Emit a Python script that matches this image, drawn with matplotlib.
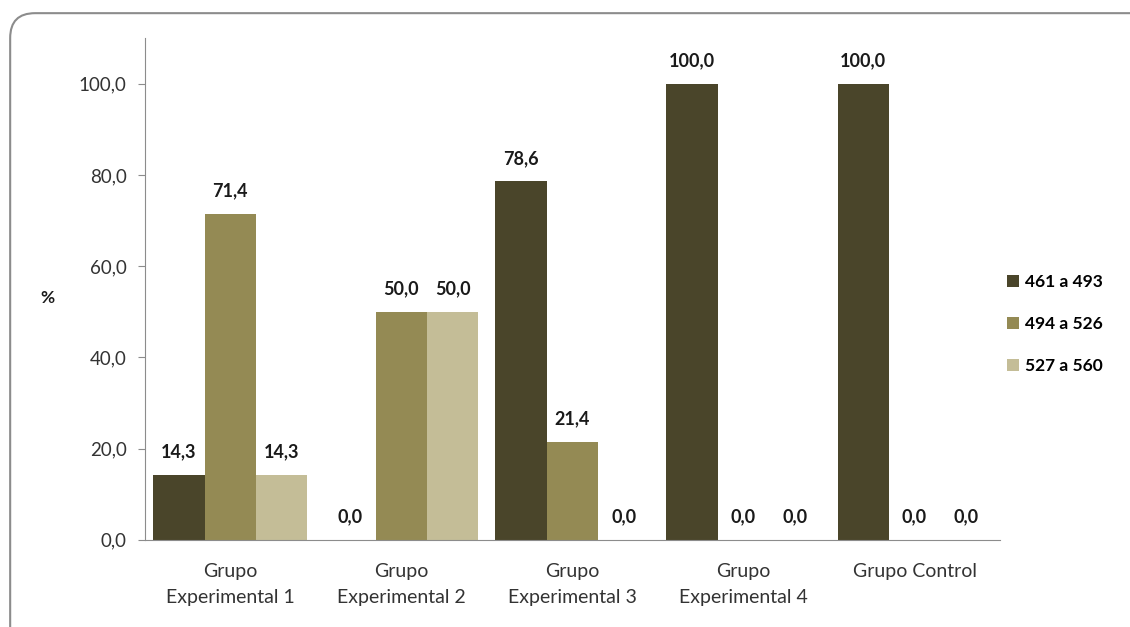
import matplotlib
matplotlib.use('Agg')
import matplotlib.pyplot as plt
import numpy as np
from matplotlib.patches import FancyBboxPatch

groups = ['Grupo\nExperimental 1', 'Grupo\nExperimental 2', 'Grupo\nExperimental 3',
          'Grupo\nExperimental 4', 'Grupo Control']
series_names = ['461 a 493', '494 a 526', '527 a 560']
s1 = [14.3, 0.0, 78.6, 100.0, 100.0]
s2 = [71.4, 50.0, 21.4, 0.0, 0.0]
s3 = [14.3, 50.0, 0.0, 0.0, 0.0]
colors = ['#4a452a', '#948a54', '#c4bd97']

plt.rcParams['font.family'] = ['Lato', 'DejaVu Sans']

fig = plt.figure(figsize=(11.3, 6.27), dpi=100)
frame = FancyBboxPatch((0.009, -0.1), 1.2, 1.079, boxstyle='round,pad=0,rounding_size=0.022',
                       transform=fig.transFigure, facecolor='white', edgecolor='#8c8c8c',
                       linewidth=1.5, mutation_aspect=1.8, zorder=-10)
fig.patches.append(frame)

ax = fig.add_axes([0.128, 0.139, 0.757, 0.80])
ax.set_facecolor('none')
ax.set_zorder(5)

x = np.arange(len(groups))
w = 0.3
for i, (vals, name) in enumerate(zip([s1, s2, s3], series_names)):
    pos = x + (i - 1) * w
    ax.bar(pos, vals, w, color=colors[i], label=name)
    for px, v in zip(pos, vals):
        ax.text(px, v + 3.2, ('%.1f' % v).replace('.', ','), ha='center', va='bottom',
                fontsize=13, fontweight='bold', color='#1a1a1a')

ax.set_xlim(-0.5, len(groups) - 0.5)
ax.set_ylim(0, 110)
ax.set_yticks(np.arange(0, 101, 20))
ax.set_yticklabels([('%.1f' % t).replace('.', ',') for t in np.arange(0, 101, 20)],
                   fontsize=13.5, color='#333333')
ax.set_xticks(x)
ax.set_xticklabels(groups, fontsize=14, color='#333333', linespacing=1.6)
ax.tick_params(axis='x', length=0, pad=17)
ax.tick_params(axis='y', length=5, color='#8c8c8c', pad=8)
for s in ['top', 'right']:
    ax.spines[s].set_visible(False)
for s in ['left', 'bottom']:
    ax.spines[s].set_color('#8c8c8c')

fig.text(0.042, 0.525, '%', fontsize=12.5, fontweight='bold', color='#1a1a1a',
         ha='center', va='center')

leg = ax.legend(loc='center left', bbox_to_anchor=(0.99, 0.43), frameon=False,
                handlelength=0.7, handleheight=0.7, handletextpad=0.35,
                labelspacing=1.5, prop={'size': 12.5, 'weight': 'bold'})

fig.savefig('out.png', dpi=100)
